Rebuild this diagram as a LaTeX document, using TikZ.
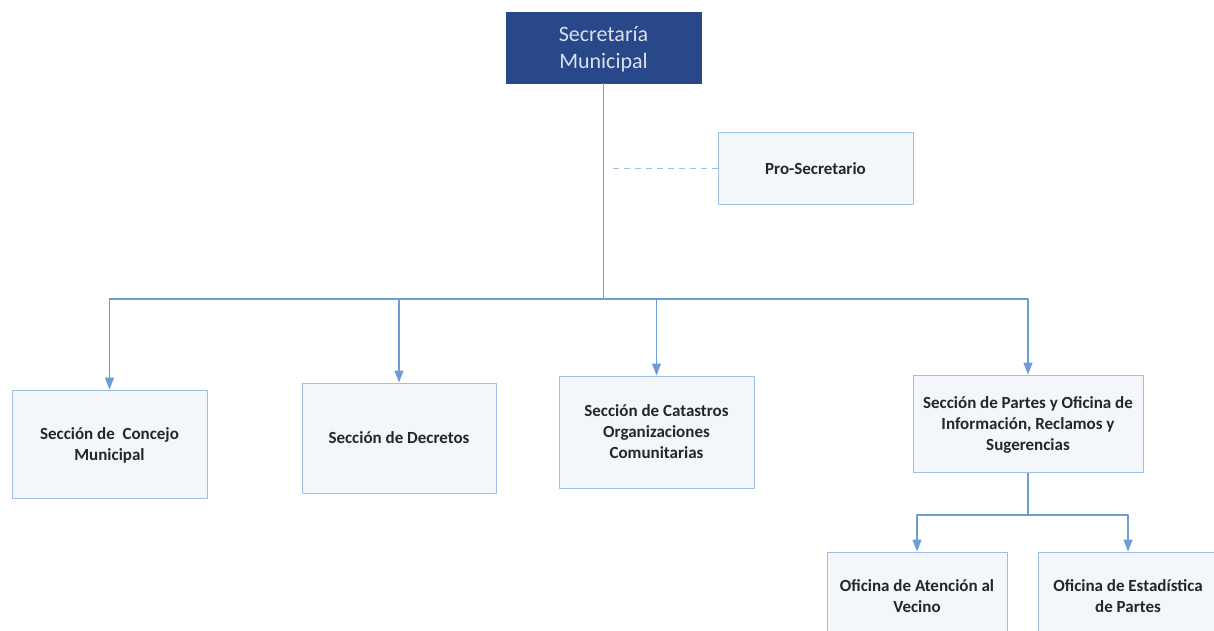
\documentclass[tikz,border=0pt]{standalone}
\usepackage{fontspec}
\setmainfont{Carlito}
\usetikzlibrary{arrows.meta}

\definecolor{azuloscuro}{RGB}{40,72,138}
\definecolor{textoclaro}{RGB}{218,224,236}
\definecolor{borde}{RGB}{158,192,230}
\definecolor{relleno}{RGB}{243,246,251}
\definecolor{conector}{RGB}{112,156,214}

\begin{document}
\begin{tikzpicture}[x=1pt,y=-1pt,line join=round]
	\tikzstyle{jefe}=[draw=azuloscuro,fill=azuloscuro,text=textoclaro,align=center,text depth=-8pt,minimum width=195pt,minimum height=71pt,font=\fontsize{22}{26.5}\selectfont];
	\tikzstyle{caja}=[draw=borde,fill=relleno,text={black!85},align=center,text depth=-6pt,line width=1pt,font=\fontsize{17}{21}\selectfont\bfseries];
	\tikzstyle{linea}=[draw=conector,line width=1.3pt];
	\tikzstyle{flecha}=[linea,-{Triangle[width=9pt,length=12pt]}];
	%% frame
	\useasboundingbox (0,0) rectangle (1214,631);
	\clip (0,0) rectangle (1214,631);
	\fill[white] (0,0) rectangle (1214,631);
	%% boxes
	\node[jefe] (secre) at (603.5,47.5) {Secretaría\\Municipal};
	\node[caja,minimum width=195pt,minimum height=71pt] (pro) at (815.5,168.5) {Pro-Secretario};
	\node[caja,minimum width=195pt,minimum height=108pt] (concejo) at (109.5,444) {Sección de~~Concejo\\Municipal};
	\node[caja,minimum width=194pt,minimum height=110pt] (decretos) at (399,438) {Sección de Decretos};
	\node[caja,minimum width=195pt,minimum height=112pt] (catastros) at (656.5,432) {Sección de Catastros\\Organizaciones\\Comunitarias};
	\node[caja,minimum width=230pt,minimum height=97pt] (partes) at (1028,423.5) {Sección de Partes y Oficina de\\Información, Reclamos y\\Sugerencias};
	\node[caja,minimum width=180pt,minimum height=88pt] (atencion) at (917,596) {Oficina de Atención al\\Vecino};
	\node[caja,minimum width=180pt,minimum height=88pt] (estadistica) at (1128,596) {Oficina de Estadística\\de Partes};
	%% main bus
	\coordinate (bus) at (secre.south |- 0,299);
	\draw[linea] (secre.south) -- (bus);
	\draw[flecha] (bus) -| (concejo.north);
	\draw[flecha] (bus) -| (decretos.north);
	\draw[flecha] (bus) -| (catastros.north);
	\draw[flecha] (bus) -| (partes.north);
	%% staff
	\coordinate (proend) at (610,168.5);
	\draw[linea,draw=borde,dash pattern=on 6pt off 5pt] (pro.west) -- (proend);
	%% offices
	\coordinate (subbus) at (partes.south |- 0,515);
	\draw[linea] (partes.south) -- (subbus);
	\draw[flecha] (subbus) -| (atencion.north);
	\draw[flecha] (subbus) -| (estadistica.north);
\end{tikzpicture}
\end{document}
